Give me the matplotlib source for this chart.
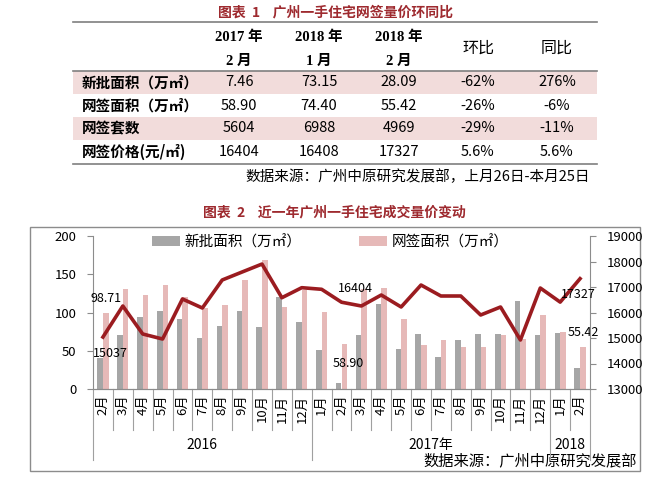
import matplotlib
matplotlib.use('Agg')
import matplotlib.pyplot as plt
import matplotlib.transforms as mtransforms
from matplotlib.patches import Rectangle
import numpy as np

plt.rcParams['font.family'] = ['Noto Sans CJK SC', 'DejaVu Sans']

# ---- 图表1 表格数据
tab_title = '图表  1    广州一手住宅网签量价环同比'
col_years = ['2017 年', '2018 年', '2018 年']
col_months = ['2 月', '1 月', '2 月']
col_rates = ['环比', '同比']
row_labels = ['新批面积（万㎡）', '网签面积（万㎡）', '网签套数', '网签价格(元/㎡)']
tab_values = [
    ['7.46', '73.15', '28.09', '-62%', '276%'],
    ['58.90', '74.40', '55.42', '-26%', '-6%'],
    ['5604', '6988', '4969', '-29%', '-11%'],
    ['16404', '16408', '17327', '5.6%', '5.6%'],
]
tab_source = '数据来源：广州中原研究发展部，上月26日-本月25日'

# ---- 图表2 数据
chart_title = '图表  2    近一年广州一手住宅成交量价变动'
months = ['2月', '3月', '4月', '5月', '6月', '7月', '8月', '9月', '10月', '11月', '12月',
          '1月', '2月', '3月', '4月', '5月', '6月', '7月', '8月', '9月', '10月', '11月', '12月',
          '1月', '2月']
year_labels = ['2016', '2017年', '2018']
year_sizes = [11, 12, 2]
xinpi = [40, 70.5, 94, 102, 91.4, 67, 82, 102, 81, 120, 87.5, 51,
         7.46, 70.5, 111, 52, 72, 42, 64, 72, 72, 115, 70.5, 73.15, 28.09]
wangqian = [98.71, 131, 123, 136, 120, 105.7, 109.6, 142, 168, 107, 129, 101,
            58.90, 131, 132, 91, 57, 64, 55, 55, 70.5, 66, 96.6, 74.40, 55.42]
price = [15037, 16255, 15157, 14960, 16530, 16176, 17275, 17588, 17900, 16580, 16973, 16910,
         16404, 16255, 16686, 16216, 17078, 16647, 16647, 15902, 16216, 14922, 16960, 16408, 17327]

RED = '#9E2A2F'
GRID = '#8C8C8C'

fig = plt.figure(figsize=(6.63, 4.84), dpi=100)

# 背景层：表格、标题、边框（像素坐标）
bg = fig.add_axes([0, 0, 1, 1])
bg.set_xlim(0, 663)
bg.set_ylim(484, 0)
bg.axis('off')

bg.text(335, 12, tab_title, ha='center', va='center', color=RED, fontsize=10, fontweight='bold')

row_y = [82.5, 105.5, 128.5, 151.5]
col_x = [239, 319, 399, 478, 557]
for i, y in enumerate(row_y):
    if i % 2 == 0:
        bg.add_patch(Rectangle((73, y - 11.5), 524, 23, color='#F2DCDB', lw=0))
for y in (22, 71, 164):
    bg.plot([73, 597], [y, y], color='#7F7F7F', lw=1.2)

for j in range(3):
    bg.text(col_x[j], 37, col_years[j], ha='center', va='center', fontsize=10.5,
            fontweight='bold', family=['Liberation Serif', 'Noto Sans CJK SC'])
    bg.text(col_x[j], 61, col_months[j], ha='center', va='center', fontsize=10.5,
            fontweight='bold', family=['Liberation Serif', 'Noto Sans CJK SC'])
for j, lab in enumerate(col_rates):
    bg.text(col_x[3 + j], 48, lab, ha='center', va='center', fontsize=11.5)

for i, y in enumerate(row_y):
    bg.text(82, y, row_labels[i], ha='left', va='center', fontsize=10.5, fontweight='bold')
    for j, v in enumerate(tab_values[i]):
        bg.text(col_x[j], y, v, ha='center', va='center', fontsize=10.5)

bg.text(590, 177, tab_source, ha='right', va='center', fontsize=10.5)

bg.text(334, 212, chart_title, ha='center', va='center', color=RED, fontsize=10, fontweight='bold')
bg.add_patch(Rectangle((30, 227), 610, 244, fill=False, ec=GRID, lw=1))
bg.text(637, 461, '数据来源：广州中原研究发展部', ha='right', va='center', fontsize=11)

# ---- 图表2 主图
L, R, T, B = 93, 590, 236, 389
ax = fig.add_axes([L / 663, 1 - B / 484, (R - L) / 663, (B - T) / 484])
ax.set_facecolor('none')
x = np.arange(len(months))
w = 0.28
ax.bar(x - w / 2, xinpi, w, color='#A6A6A6', label='新批面积（万㎡）')
ax.bar(x + w / 2, wangqian, w, color='#E6B9B8', label='网签面积（万㎡）')
ax.set_xlim(-0.5, len(months) - 0.5)
ax.set_ylim(0, 200)
ax.set_yticks(range(0, 201, 50))
ax.set_xticks(x)
ax.set_xticklabels(months, rotation=90, fontsize=9.5)
ax.tick_params(axis='x', length=0, pad=4)
ax.tick_params(axis='y', length=4, color=GRID, labelsize=9.5, pad=8)

ax2 = ax.twinx()
ax2.plot(x, price, color='#9B1C20', lw=2.6)
ax2.set_ylim(13000, 19000)
ax2.set_yticks(range(13000, 19001, 1000))
ax2.tick_params(axis='y', length=4, color=GRID, labelsize=9.5, pad=8)

for a in (ax, ax2):
    a.spines['top'].set_visible(False)
    for s in ('left', 'right', 'bottom'):
        a.spines[s].set_color(GRID)
ax.spines['right'].set_visible(False)
ax2.spines['left'].set_visible(False)

# 分类分隔线与年份
trans = mtransforms.blended_transform_factory(ax.transData, ax.transAxes)
year_edges = np.cumsum([0] + year_sizes) - 0.5
for b in np.arange(-0.5, len(months)):
    depth = -71 / 153 if b in year_edges else -41 / 153
    ax.plot([b, b], [0, depth], transform=trans, clip_on=False, color='#A0A0A0', lw=0.8)
for k, lab in enumerate(year_labels):
    cx = (year_edges[k] + year_edges[k + 1]) / 2
    ax.text(cx, -56 / 153, lab, transform=trans, ha='center', va='center', fontsize=10)

ax.legend(loc='upper left', bbox_to_anchor=(152 / 663, 1 - 235 / 484), bbox_transform=fig.transFigure,
          ncol=2, frameon=False, fontsize=10.5, handlelength=1.9, handleheight=0.6,
          handletextpad=0.3, columnspacing=4.0, borderpad=0, borderaxespad=0)

# 数据标签
ax.annotate(f'{wangqian[0]:.2f}', (0 + w / 2, wangqian[0]), xytext=(0, 11),
            textcoords='offset points', ha='center', va='center', fontsize=9)
ax2.annotate(str(price[0]), (0, price[0]), xytext=(5, -12),
             textcoords='offset points', ha='center', va='center', fontsize=9)
ax2.annotate(str(price[12]), (12, price[12]), xytext=(10, 10),
             textcoords='offset points', ha='center', va='center', fontsize=9)
ax.annotate(f'{wangqian[12]:.2f}', (12 + w / 2, wangqian[12]), xytext=(3, -14),
            textcoords='offset points', ha='center', va='center', fontsize=9)
ax2.annotate(str(price[24]), (24, price[24]), xytext=(-1.5, -11.5),
             textcoords='offset points', ha='center', va='center', fontsize=9)
ax.annotate(f'{wangqian[24]:.2f}', (24 + w / 2, wangqian[24]), xytext=(0, 10.5),
            textcoords='offset points', ha='center', va='center', fontsize=9)

fig.savefig('out.png', dpi=100)
